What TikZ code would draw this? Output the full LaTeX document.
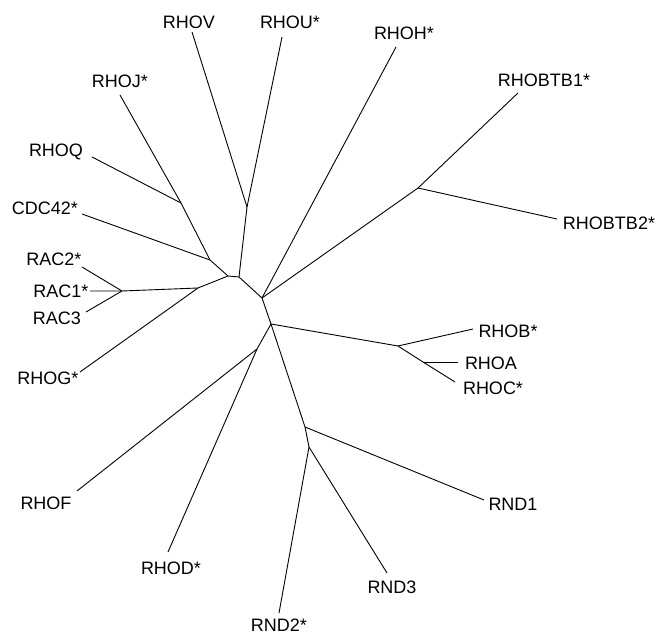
\documentclass[tikz,border=0pt]{standalone}
\usepackage{fontspec}
\setmainfont{Liberation Sans}
\begin{document}
\begin{tikzpicture}[x=1pt,y=-1pt,
  lbl/.style={inner sep=0pt,text height=12.9pt,text depth=0pt,font=\fontsize{18}{18}\selectfont},
  br/.style={line width=0.9pt,line join=round}]
\useasboundingbox (0,0) rectangle (656,636);
% internal nodes
\coordinate (A) at (181,203);
\coordinate (B) at (210,260);
\coordinate (C) at (228,276);
\coordinate (D) at (198,288);
\coordinate (R) at (122,291);
\coordinate (E) at (239,277);
\coordinate (F) at (247,207);
\coordinate (G) at (262,298);
\coordinate (Bt) at (418,188);
\coordinate (H) at (271,324);
\coordinate (I) at (398,346);
\coordinate (J) at (423,362);
\coordinate (K) at (257,349);
\coordinate (L) at (305,427);
\coordinate (M) at (309,447);
% leaf ends
\coordinate (eRHOJ) at (120,95);
\coordinate (eRHOQ) at (92,157);
\coordinate (eCDC) at (82,214);
\coordinate (eRAC2) at (82,267);
\coordinate (eRAC1) at (90,291);
\coordinate (eRAC3) at (86,312);
\coordinate (eRHOG) at (80,372);
\coordinate (eRHOV) at (192,32);
\coordinate (eRHOU) at (282,37);
\coordinate (eRHOH) at (396,47);
\coordinate (eBTB1) at (518,93);
\coordinate (eBTB2) at (557,219);
\coordinate (eRHOB) at (473,329);
\coordinate (eRHOA) at (458,362);
\coordinate (eRHOC) at (455,382);
\coordinate (eRHOF) at (77,491);
\coordinate (eRHOD) at (168,552);
\coordinate (eRND1) at (484,500);
\coordinate (eRND2) at (279,613);
\coordinate (eRND3) at (387,573);
% labels
\node[lbl] (tRHOV) at (189,22) {RHOV};
\node[lbl] (tRHOU) at (290,22) {RHOU*};
\node[lbl] (tRHOH) at (404,33) {RHOH*};
\node[lbl] (tRHOJ) at (120,81) {RHOJ*};
\node[lbl] (tRHOQ) at (56,150) {RHOQ};
\node[lbl] (tCDC) at (45,208) {CDC42*};
\node[lbl] (tBTB1) at (544,80) {RHOBTB1*};
\node[lbl] (tBTB2) at (609,223) {RHOBTB2*};
\node[lbl] (tRAC2) at (54,259) {RAC2*};
\node[lbl] (tRAC1) at (61,291) {RAC1*};
\node[lbl] (tRAC3) at (57,318) {RAC3};
\node[lbl] (tRHOG) at (48,378) {RHOG*};
\node[lbl] (tRHOB) at (508,331) {RHOB*};
\node[lbl] (tRHOA) at (491,363) {RHOA};
\node[lbl] (tRHOC) at (493,388) {RHOC*};
\node[lbl] (tRHOF) at (46,503) {RHOF};
\node[lbl] (tRHOD) at (171,568) {RHOD*};
\node[lbl] (tRND1) at (513,504) {RND1};
\node[lbl] (tRND3) at (392,587) {RND3};
\node[lbl] (tRND2) at (279,625) {RND2*};
% branches
\draw[br] (eRHOJ) -- (A) -- (B) -- (C) -- (E) -- (G) -- (H) -- (L) -- (M) -- (eRND2);
\draw[br] (eRHOQ) -- (A);
\draw[br] (eCDC) -- (B);
\draw[br] (C) -- (D) -- (R) -- (eRAC1);
\draw[br] (eRAC2) -- (R) -- (eRAC3);
\draw[br] (D) -- (eRHOG);
\draw[br] (E) -- (F) -- (eRHOV);
\draw[br] (F) -- (eRHOU);
\draw[br] (G) -- (eRHOH);
\draw[br] (G) -- (Bt) -- (eBTB1);
\draw[br] (Bt) -- (eBTB2);
\draw[br] (H) -- (I) -- (eRHOB);
\draw[br] (I) -- (J) -- (eRHOC);
\draw[br] (J) -- (eRHOA);
\draw[br] (H) -- (K) -- (eRHOF);
\draw[br] (K) -- (eRHOD);
\draw[br] (L) -- (eRND1);
\draw[br] (M) -- (eRND3);
\end{tikzpicture}
\end{document}
